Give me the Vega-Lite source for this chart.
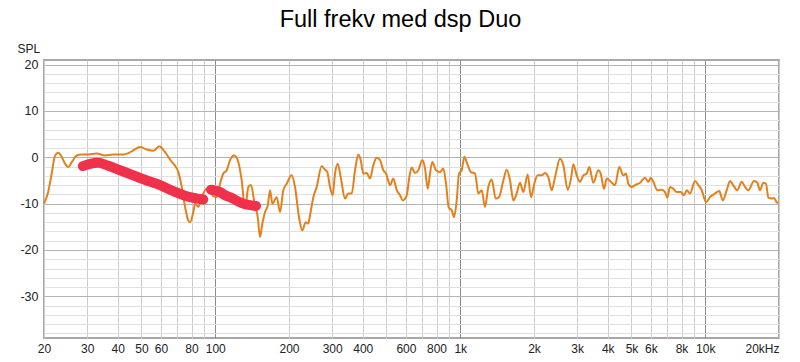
{
  "$schema": "https://vega.github.io/schema/vega-lite/v6.json",
  "width": 735,
  "height": 278,
  "autosize": {"type": "none"},
  "padding": {"left": 44, "top": 60, "right": 21, "bottom": 24},
  "background": "white",
  "title": {
    "text": "Full frekv med dsp Duo",
    "font": "Liberation Sans",
    "fontSize": 23.5,
    "fontWeight": "normal",
    "color": "#000000",
    "anchor": "middle",
    "baseline": "alphabetic",
    "offset": -8,
    "dx": -11
  },
  "config": {
    "view": {"stroke": "#a8a8a8", "strokeWidth": 2},
    "axis": {"labelFont": "Liberation Sans", "titleFont": "Liberation Sans"}
  },
  "datasets": {
    "resp": [
      {"f": 20.0, "db": -10.0}, {"f": 20.8, "db": -7.5}, {"f": 21.5, "db": -3.5}, {"f": 22.2, "db": 0.4},
      {"f": 22.9, "db": 1.0}, {"f": 23.6, "db": 0.1}, {"f": 24.4, "db": -1.4}, {"f": 25.1, "db": -2.1},
      {"f": 26.0, "db": -1.0}, {"f": 27.2, "db": 0.4}, {"f": 28.5, "db": 0.6}, {"f": 30.3, "db": 0.6},
      {"f": 32.8, "db": 0.8}, {"f": 35.5, "db": 0.4}, {"f": 38.4, "db": 0.6}, {"f": 42.2, "db": 0.6},
      {"f": 44.2, "db": 0.9}, {"f": 46.3, "db": 1.5}, {"f": 49.3, "db": 2.2}, {"f": 52.5, "db": 1.7},
      {"f": 55.9, "db": 1.4}, {"f": 59.1, "db": 2.4}, {"f": 62.4, "db": 1.1}, {"f": 66.4, "db": -1.0},
      {"f": 68.5, "db": -1.8}, {"f": 70.7, "db": -3.2}, {"f": 73.0, "db": -6.4}, {"f": 75.3, "db": -10.7},
      {"f": 77.6, "db": -13.6}, {"f": 78.9, "db": -14.0}, {"f": 81.4, "db": -11.8}, {"f": 82.7, "db": -10.0},
      {"f": 85.3, "db": -10.7}, {"f": 88.1, "db": -8.6}, {"f": 92.3, "db": -6.8}, {"f": 95.2, "db": -7.1},
      {"f": 98.2, "db": -8.4}, {"f": 101.4, "db": -8.6}, {"f": 104.6, "db": -5.7}, {"f": 107.9, "db": -3.5},
      {"f": 111.4, "db": -2.8}, {"f": 114.9, "db": -0.6}, {"f": 119.6, "db": 0.4}, {"f": 124.2, "db": -1.0},
      {"f": 128.2, "db": -5.0}, {"f": 132.3, "db": -11.1}, {"f": 136.5, "db": -6.4}, {"f": 140.0, "db": -6.0},
      {"f": 144.4, "db": -9.7}, {"f": 149.1, "db": -12.9}, {"f": 152.3, "db": -17.2}, {"f": 155.7, "db": -14.3},
      {"f": 159.7, "db": -11.8}, {"f": 163.8, "db": -10.4}, {"f": 167.4, "db": -7.1}, {"f": 171.0, "db": -10.0},
      {"f": 178.2, "db": -8.6}, {"f": 183.9, "db": -11.8}, {"f": 189.6, "db": -7.1}, {"f": 195.7, "db": -5.7},
      {"f": 205.1, "db": -3.9}, {"f": 211.6, "db": -6.4}, {"f": 219.7, "db": -12.9}, {"f": 226.7, "db": -15.8},
      {"f": 234.0, "db": -14.0}, {"f": 239.8, "db": -14.3}, {"f": 243.7, "db": -12.5}, {"f": 251.4, "db": -8.6},
      {"f": 259.5, "db": -6.4}, {"f": 272.0, "db": -1.9}, {"f": 280.6, "db": -2.7}, {"f": 286.7, "db": -3.2},
      {"f": 294.1, "db": -6.4}, {"f": 301.6, "db": -8.2}, {"f": 308.2, "db": -3.5}, {"f": 316.1, "db": -1.4},
      {"f": 325.2, "db": -4.3}, {"f": 338.6, "db": -8.9}, {"f": 349.2, "db": -7.8}, {"f": 360.6, "db": -7.8},
      {"f": 372.0, "db": -2.8}, {"f": 383.7, "db": 0.6}, {"f": 392.4, "db": -0.6}, {"f": 402.1, "db": -3.5},
      {"f": 415.2, "db": -3.4}, {"f": 428.3, "db": -4.6}, {"f": 441.8, "db": -1.7}, {"f": 456.1, "db": -0.1},
      {"f": 470.5, "db": -0.6}, {"f": 485.3, "db": -2.8}, {"f": 497.8, "db": -3.5}, {"f": 516.9, "db": -6.0},
      {"f": 533.1, "db": -4.6}, {"f": 550.5, "db": -7.1}, {"f": 567.8, "db": -8.2}, {"f": 582.4, "db": -9.3},
      {"f": 604.7, "db": -8.2}, {"f": 619.7, "db": -4.3}, {"f": 633.8, "db": -2.2}, {"f": 653.8, "db": -3.4},
      {"f": 674.4, "db": -2.8}, {"f": 699.8, "db": -0.6}, {"f": 718.1, "db": -2.4}, {"f": 736.6, "db": -6.8},
      {"f": 752.7, "db": -3.5}, {"f": 769.2, "db": -1.0}, {"f": 796.2, "db": -2.8}, {"f": 826.7, "db": -3.2},
      {"f": 852.8, "db": -2.4}, {"f": 874.7, "db": -5.7}, {"f": 898.0, "db": -10.9}, {"f": 922.9, "db": -11.4},
      {"f": 943.0, "db": -12.9}, {"f": 967.3, "db": -9.3}, {"f": 988.4, "db": -3.5}, {"f": 1013.8, "db": -2.8},
      {"f": 1038.9, "db": 0.1}, {"f": 1072.6, "db": -1.7}, {"f": 1106.5, "db": -3.2}, {"f": 1148.9, "db": -3.5},
      {"f": 1185.1, "db": -7.8}, {"f": 1223.6, "db": -7.1}, {"f": 1262.0, "db": -10.7}, {"f": 1301.8, "db": -6.4},
      {"f": 1344.0, "db": -4.8}, {"f": 1395.6, "db": -8.9}, {"f": 1439.5, "db": -8.6}, {"f": 1499.2, "db": -5.0},
      {"f": 1547.8, "db": -2.7}, {"f": 1596.6, "db": -5.0}, {"f": 1646.9, "db": -9.3}, {"f": 1699.9, "db": -7.8},
      {"f": 1753.5, "db": -5.5}, {"f": 1808.6, "db": -7.5}, {"f": 1885.0, "db": -3.7}, {"f": 1944.5, "db": -8.6},
      {"f": 2005.6, "db": -5.7}, {"f": 2070.9, "db": -3.9}, {"f": 2150.1, "db": -3.9}, {"f": 2218.0, "db": -3.4},
      {"f": 2287.9, "db": -4.3}, {"f": 2362.2, "db": -7.1}, {"f": 2436.7, "db": -4.3}, {"f": 2553.8, "db": -0.3},
      {"f": 2634.3, "db": -1.7}, {"f": 2745.5, "db": -7.0}, {"f": 2831.9, "db": -4.6}, {"f": 2893.8, "db": -1.5},
      {"f": 2987.8, "db": -3.9}, {"f": 3082.2, "db": -5.3}, {"f": 3179.4, "db": -3.9}, {"f": 3282.7, "db": -3.5},
      {"f": 3363.9, "db": -2.1}, {"f": 3492.6, "db": -5.5}, {"f": 3659.9, "db": -2.8}, {"f": 3743.2, "db": -3.5},
      {"f": 3861.4, "db": -6.8}, {"f": 3960.7, "db": -4.6}, {"f": 4085.7, "db": -5.1}, {"f": 4282.0, "db": -6.0},
      {"f": 4459.0, "db": -2.1}, {"f": 4630.0, "db": -3.9}, {"f": 4750.0, "db": -3.5}, {"f": 4854.0, "db": -5.7},
      {"f": 5012.0, "db": -6.4}, {"f": 5170.0, "db": -6.0}, {"f": 5418.0, "db": -5.5}, {"f": 5678.0, "db": -4.4},
      {"f": 5857.0, "db": -5.3}, {"f": 5991.0, "db": -4.4}, {"f": 6139.0, "db": -5.3}, {"f": 6374.0, "db": -7.1},
      {"f": 6643.0, "db": -7.0}, {"f": 6852.0, "db": -7.5}, {"f": 7001.0, "db": -8.7}, {"f": 7181.0, "db": -6.4},
      {"f": 7407.0, "db": -6.8}, {"f": 7648.0, "db": -7.5}, {"f": 7941.0, "db": -7.5}, {"f": 8191.0, "db": -8.2},
      {"f": 8402.0, "db": -7.1}, {"f": 8667.0, "db": -7.8}, {"f": 9083.0, "db": -5.1}, {"f": 9369.0, "db": -6.0},
      {"f": 9674.0, "db": -7.1}, {"f": 10072.0, "db": -9.7}, {"f": 10458.0, "db": -8.6}, {"f": 10962.0, "db": -7.8},
      {"f": 11415.0, "db": -7.3}, {"f": 11785.0, "db": -9.3}, {"f": 12237.0, "db": -7.1}, {"f": 12619.0, "db": -5.1},
      {"f": 13101.0, "db": -6.3}, {"f": 13515.0, "db": -7.1}, {"f": 14086.0, "db": -5.3}, {"f": 14530.0, "db": -6.4},
      {"f": 14988.0, "db": -7.1}, {"f": 15814.0, "db": -5.1}, {"f": 16311.0, "db": -5.5}, {"f": 16730.0, "db": -7.1},
      {"f": 17258.0, "db": -5.5}, {"f": 17702.0, "db": -5.7}, {"f": 18089.0, "db": -8.7}, {"f": 18676.0, "db": -8.9},
      {"f": 19084.0, "db": -8.8}, {"f": 19572.0, "db": -9.7}, {"f": 19812.0, "db": -9.9}
    ],
    "target": [
      {"f": 28.8, "db": -1.9, "seg": "a"}, {"f": 30.8, "db": -1.4, "seg": "a"}, {"f": 33.3, "db": -1.2, "seg": "a"},
      {"f": 36.1, "db": -1.7, "seg": "a"}, {"f": 40.9, "db": -2.8, "seg": "a"}, {"f": 46.3, "db": -3.9, "seg": "a"},
      {"f": 52.5, "db": -5.0, "seg": "a"}, {"f": 59.5, "db": -6.0, "seg": "a"}, {"f": 67.4, "db": -7.3, "seg": "a"},
      {"f": 78.9, "db": -8.6, "seg": "a"}, {"f": 89.4, "db": -9.1, "seg": "a"},
      {"f": 96.1, "db": -7.0, "seg": "b"}, {"f": 104.6, "db": -7.5, "seg": "b"}, {"f": 109.6, "db": -8.2, "seg": "b"},
      {"f": 114.9, "db": -8.6, "seg": "b"}, {"f": 128.2, "db": -9.9, "seg": "b"}, {"f": 146.7, "db": -10.5, "seg": "b"}
    ]
  },
  "encoding": {
    "x": {
      "field": "f",
      "type": "quantitative",
      "scale": {"type": "log", "domain": [20, 20000], "nice": false},
      "axis": {
        "title": null,
        "values": [20, 30, 40, 50, 60, 70, 80, 90, 100, 200, 300, 400, 500, 600, 700, 800, 900, 1000, 2000, 3000, 4000, 5000, 6000, 7000, 8000, 9000, 10000, 20000],
        "labelExpr": "indexof([20,30,40,50,60,80,100,200,300,400,600,800,1000,2000,3000,4000,5000,6000,8000,10000,20000], datum.value) < 0 ? '' : (datum.value == 20000 ? '20kHz' : (datum.value >= 1000 ? (datum.value / 1000) + 'k' : '' + datum.value))",
        "labelAlign": {"condition": {"test": "datum.value == 20000", "value": "right"}, "value": "center"},
        "labelOverlap": false,
        "labelFlush": false,
        "labelFontSize": 12,
        "labelColor": "#222222",
        "labelPadding": 5,
        "ticks": false,
        "domain": false,
        "grid": true,
        "gridColor": {"condition": {"test": "datum.value == 100 || datum.value == 1000 || datum.value == 10000", "value": "#8c8c8c"}, "value": "#cccccc"},
        "gridWidth": 1
      }
    },
    "y": {
      "field": "db",
      "type": "quantitative",
      "scale": {"domain": [-39, 21], "nice": false, "zero": false},
      "axis": {
        "title": "SPL",
        "titleAngle": 0,
        "titleAlign": "left",
        "titleBaseline": "alphabetic",
        "titleX": -27,
        "titleY": -8,
        "titleFontSize": 12,
        "titleFontWeight": "normal",
        "titleColor": "#222222",
        "values": [-38, -36, -34, -32, -30, -28, -26, -24, -22, -20, -18, -16, -14, -12, -10, -8, -6, -4, -2, 0, 2, 4, 6, 8, 10, 12, 14, 16, 18, 20],
        "labelExpr": "datum.value % 10 == 0 ? '' + datum.value : ''",
        "labelFontSize": 12.5,
        "labelColor": "#222222",
        "labelPadding": 6,
        "labelOverlap": false,
        "labelFlush": false,
        "ticks": false,
        "domain": false,
        "grid": true,
        "gridColor": {"condition": {"test": "datum.value % 10 == 0", "value": "#b4b4b4"}, "value": "#e0e0e0"},
        "gridWidth": 1
      }
    }
  },
  "layer": [
    {
      "data": {"name": "resp"},
      "mark": {"type": "line", "color": "#E5801A", "strokeWidth": 2, "interpolate": "monotone"}
    },
    {
      "data": {"name": "target"},
      "mark": {"type": "line", "color": "#F0314B", "strokeWidth": 10, "strokeCap": "round", "strokeJoin": "round", "interpolate": "monotone"},
      "encoding": {"detail": {"field": "seg", "type": "nominal"}}
    }
  ]
}
